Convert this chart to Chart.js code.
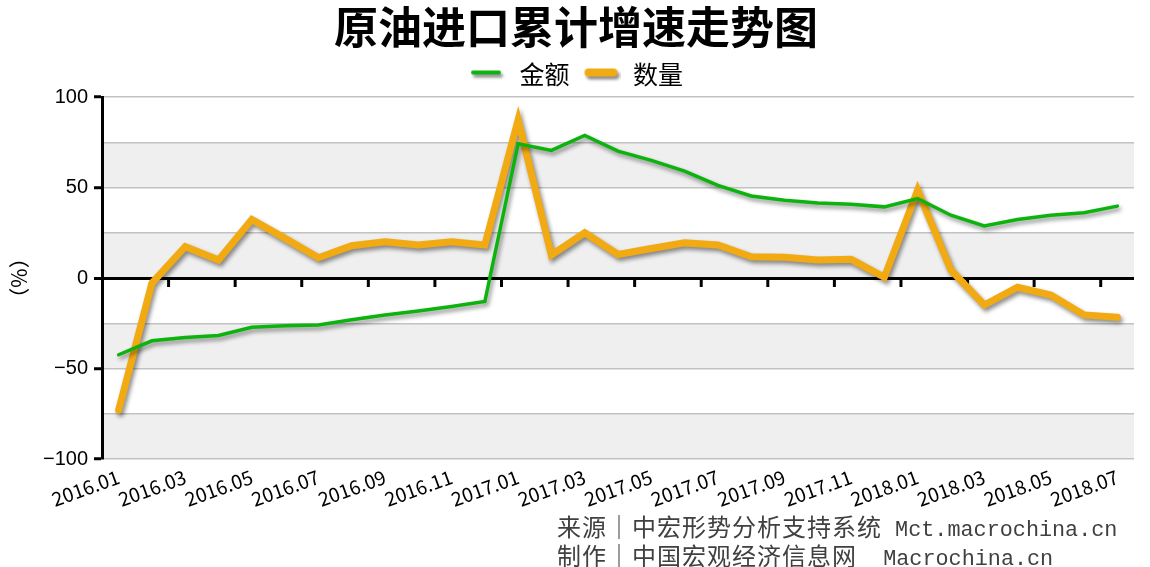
<!DOCTYPE html>
<html>
<head>
<meta charset="utf-8">
<script src="https://cdn.jsdelivr.net/npm/chart.js@4/dist/chart.umd.min.js"></script>
<style>
  html, body { margin: 0; padding: 0; background: #fff; }
  #wrap { position: relative; width: 1150px; height: 567px; }
  #note { position: absolute; left: 557px; top: 514px; color: #404040; line-height: 24px; white-space: pre; }
  .cn { font-family: "Noto Sans CJK SC"; font-size: 24px; letter-spacing: 1px; }
  .en { font-family: "Liberation Mono"; font-size: 21.8px; }
</style>
</head>
<body>
<div id="wrap">
  <canvas id="chartId" width="1150" height="567"></canvas>
  <div id="note"><span class="cn">来源｜中宏形势分析支持系统</span><span class="en"> Mct.macrochina.cn</span>
<span class="cn">制作｜中国宏观经济信息网</span><span class="en">  Macrochina.cn</span></div>
</div>
<script>
// data
var months = ['2016.01', '2016.02', '2016.03', '2016.04', '2016.05', '2016.06', '2016.07', '2016.08',
  '2016.09', '2016.10', '2016.11', '2016.12', '2017.01', '2017.02', '2017.03', '2017.04', '2017.05',
  '2017.06', '2017.07', '2017.08', '2017.09', '2017.10', '2017.11', '2017.12', '2018.01', '2018.02',
  '2018.03', '2018.04', '2018.05', '2018.06', '2018.07'];
var amount = [-42.4, -34.7, -32.9, -31.8, -27.2, -26.4, -25.9, -23.1, -20.4, -18.2, -15.8, -13.0,
  74.2, 70.5, 78.8, 70.1, 65.0, 59.1, 51.2, 45.3, 43.0, 41.5, 40.8, 39.3, 43.9, 34.7, 28.8, 32.3,
  34.7, 36.0, 39.7];
var volume = [-73.0, -2.8, 17.3, 9.9, 32.3, 21.9, 11.2, 17.8, 20.0, 18.2, 20.0, 18.2,
  87.4, 12.7, 25.0, 13.0, 16.3, 19.4, 18.2, 11.7, 11.4, 9.9, 10.3, 0.4, 48.5, 4.4, -14.9, -5.1,
  -9.4, -20.4, -21.7];
var yTicks = [-100, -50, 0, 50, 100];

var cjk = '"Noto Sans CJK SC", sans-serif';
var green = '#0cb30c', orange = '#f2aa12';

// legend marker: short line with a drop shadow
function legendMark(color, len, width) {
  var c = document.createElement('canvas');
  c.width = 38; c.height = 22;
  var g = c.getContext('2d');
  g.shadowColor = 'rgba(0,0,0,0.45)';
  g.shadowBlur = 3;
  g.shadowOffsetX = 2;
  g.shadowOffsetY = 3;
  g.strokeStyle = color;
  g.lineWidth = width;
  g.lineCap = 'round';
  g.beginPath();
  g.moveTo(2 + width / 2, 9);
  g.lineTo(2 + len - width / 2, 9);
  g.stroke();
  return c;
}

// grey bands every other 25
var bands = {
  id: 'bands',
  beforeDraw(chart) {
    var ctx = chart.ctx, a = chart.chartArea, y = chart.scales.y;
    ctx.save();
    ctx.fillStyle = '#efefef';
    for (var v = -100; v < 100; v += 50) {
      var top = y.getPixelForValue(v + 25), bot = y.getPixelForValue(v);
      ctx.fillRect(a.left, top, a.right - a.left, bot - top);
    }
    ctx.restore();
  }
};

// small ticks hanging under the zero line
var zeroTicks = {
  id: 'zeroTicks',
  beforeDatasetsDraw(chart) {
    var ctx = chart.ctx, x = chart.scales.x, y = chart.scales.y;
    var y0 = y.getPixelForValue(0);
    ctx.save();
    ctx.strokeStyle = '#000';
    ctx.lineWidth = 3;
    for (var i = 1; i < months.length - 1; i += 2) {
      var px = (x.getPixelForValue(i) + x.getPixelForValue(i + 1)) / 2;
      ctx.beginPath();
      ctx.moveTo(px, y0);
      ctx.lineTo(px, y0 + 9);
      ctx.stroke();
    }
    ctx.restore();
  }
};

// drop shadow under the lines
var shadow = {
  id: 'shadow',
  beforeDatasetDraw(chart) {
    var ctx = chart.ctx;
    ctx.save();
    ctx.shadowColor = 'rgba(0,0,0,0.45)';
    ctx.shadowBlur = 4;
    ctx.shadowOffsetX = 2;
    ctx.shadowOffsetY = 3;
  },
  afterDatasetDraw(chart) {
    chart.ctx.restore();
  }
};

var chrt = document.getElementById('chartId').getContext('2d');
var chartId = new Chart(chrt, {
  type: 'line',
  data: {
    labels: months,
    datasets: [{
      label: '金额',
      data: amount,
      borderColor: green,
      backgroundColor: green,
      borderWidth: 3.5,
      borderCapStyle: 'round',
      pointRadius: 0,
      pointStyle: legendMark(green, 30, 4),
      tension: 0
    }, {
      label: '数量',
      data: volume,
      borderColor: orange,
      backgroundColor: orange,
      borderWidth: 7,
      borderCapStyle: 'round',
      pointRadius: 0,
      pointStyle: legendMark(orange, 33, 8),
      tension: 0
    }]
  },
  options: {
    responsive: false,
    animation: false,
    layout: { padding: { left: 18, right: 16, top: 0, bottom: 58 } },
    plugins: {
      title: {
        display: true,
        text: '原油进口累计增速走势图',
        color: '#000',
        font: { family: cjk, size: 44, weight: 'bold', lineHeight: 1.0 },
        padding: { top: 5, bottom: 0 }
      },
      legend: {
        position: 'top',
        labels: {
          usePointStyle: true,
          pointStyleWidth: 38,
          color: '#000',
          font: { family: cjk, size: 25 },
          padding: 13
        }
      },
      tooltip: { enabled: false }
    },
    scales: {
      x: {
        offset: true,
        grid: { display: false, drawTicks: false },
        border: { display: false },
        ticks: {
          autoSkip: false,
          minRotation: 20,
          maxRotation: 20,
          padding: 6,
          color: '#000',
          font: { family: cjk, size: 19.5 },
          callback: function (v, i) { return i % 2 === 0 ? months[i] : ''; }
        },
        afterFit: function (s) { s.height = 50; }
      },
      y: {
        min: -100,
        max: 100,
        border: { display: true, color: '#000', width: 3 },
        grid: {
          color: function (c) { return c.tick.value === 0 ? '#000' : '#c2c2c2'; },
          lineWidth: function (c) { return c.tick.value === 0 ? 3 : 1.5; },
          tickColor: function (c) { return yTicks.indexOf(c.tick.value) >= 0 ? '#000' : 'rgba(0,0,0,0)'; },
          tickWidth: 3,
          tickLength: 8
        },
        ticks: {
          stepSize: 25,
          padding: 6,
          color: '#000',
          font: { family: '"Liberation Sans", Arial, sans-serif', size: 20 },
          callback: function (v) {
            if (yTicks.indexOf(v) < 0) return '';
            return v < 0 ? '\u2212' + Math.abs(v) : String(v);
          }
        },
        title: {
          display: true,
          text: '（%）',
          color: '#000',
          font: { family: cjk, size: 21 },
          padding: { top: -12, bottom: 0 }
        },
        afterFit: function (s) { s.width = 84; }
      }
    }
  },
  plugins: [bands, zeroTicks, shadow]
});
</script>
</body>
</html>
